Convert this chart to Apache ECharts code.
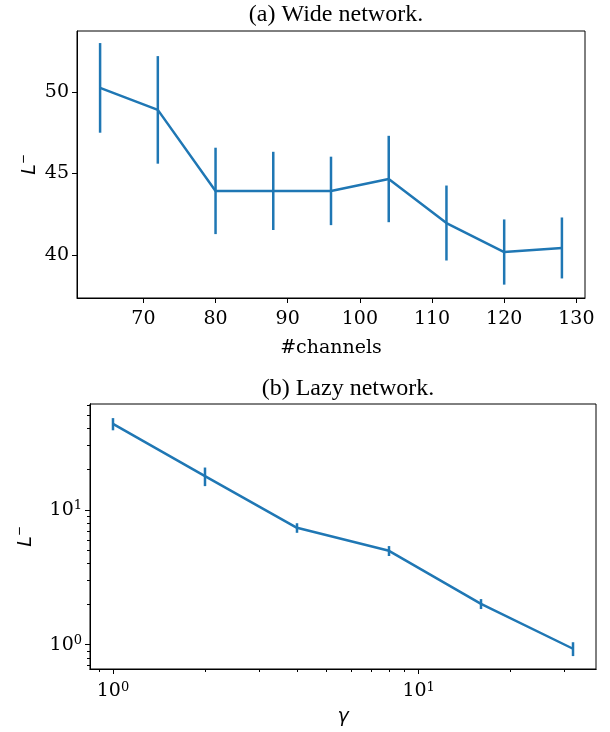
<!DOCTYPE html>
<html><head><meta charset="utf-8">
<script src="https://cdn.jsdelivr.net/npm/echarts@6/dist/echarts.min.js"></script>
<style>html,body{margin:0;padding:0;background:#fff}#c{width:610px;height:732px}</style>
</head><body><div id="c"></div>
<script>
// ---- data ----
const channels = [64, 72, 80, 88, 96, 104, 112, 120, 128];
const wideMean = [50.25, 48.9, 43.93, 43.93, 43.93, 44.66, 41.96, 40.18, 40.43];
const wideErr  = [2.75, 3.3, 2.65, 2.4, 2.1, 2.65, 2.3, 2.0, 1.87];
const gammas   = [1, 2, 4, 8, 16, 32];
const lazyMean = [43.4, 17.8, 7.36, 4.97, 2.01, 0.934];
const lazyErr  = [4.5, 2.8, 0.6, 0.42, 0.17, 0.11];
const wideXTicks = [70, 80, 90, 100, 110, 120, 130];
const wideYTicks = [40, 45, 50];
const logMajor = [1, 10];
const lazyXMinor = [0.9, 2, 3, 4, 5, 6, 7, 8, 9, 20, 30];
const lazyYMinor = [0.7, 0.8, 0.9, 2, 3, 4, 5, 6, 7, 8, 9, 20, 30, 40, 50, 60];
const titles = ['(a) Wide network.', '(b) Lazy network.'];

const BLUE = '#1f77b4';
const SERIF = 'DejaVu Serif';
const chart = echarts.init(document.getElementById('c'), null, {renderer: 'canvas'});

const lineData = (xs, ys) => xs.map((x, i) => [x, ys[i]]);
const errData = (xs, ys, es) => xs.map((x, i) => [x, ys[i] - es[i], ys[i] + es[i]]);

function errRender(params, api) {
  const p1 = api.coord([api.value(0), api.value(1)]);
  const p2 = api.coord([api.value(0), api.value(2)]);
  return {type: 'line', shape: {x1: p1[0], y1: p1[1], x2: p2[0], y2: p2[1]},
          style: {stroke: BLUE, lineWidth: 2.5}};
}

const axisCommon = {
  axisLine: {show: true, onZero: false, lineStyle: {color: '#000', width: 1}},
  axisTick: {show: true, length: 5, lineStyle: {color: '#000', width: 1}},
  splitLine: {show: false},
};
const supRich = {
  b: {fontFamily: SERIF, fontSize: 19, color: '#000'},
  s: {fontFamily: SERIF, fontSize: 13, color: '#000', verticalAlign: 'top', padding: [0, 0, 8, 0]}
};
const logFmt = v => '{b|10}{s|' + Math.round(Math.log10(v)) + '}';
const yName = {
  name: '{i|L}{m|\u2212}',
  nameLocation: 'middle', nameRotate: 90, nameMoveOverlap: false,
  nameTextStyle: {rich: {
    i: {fontFamily: 'DejaVu Sans', fontStyle: 'italic', fontSize: 19, color: '#000'},
    m: {fontFamily: 'DejaVu Sans', fontSize: 12, color: '#000', padding: [0, 0, 12, 0]}
  }}
};

const option = {
  animation: false,
  title: [
    {text: titles[0], left: 331, top: -2, textAlign: 'center',
     textStyle: {fontFamily: 'Liberation Serif', fontWeight: 'normal', fontSize: 24, color: '#000'}},
    {text: titles[1], left: 343, top: 372, textAlign: 'center',
     textStyle: {fontFamily: 'Liberation Serif', fontWeight: 'normal', fontSize: 24, color: '#000'}}
  ],
  grid: [
    {left: 77, top: 31, width: 508, height: 267, show: true, borderColor: '#000', borderWidth: 1},
    {left: 90, top: 404, width: 506, height: 265, show: true, borderColor: '#000', borderWidth: 1}
  ],
  xAxis: [
    Object.assign({}, axisCommon, {
      gridIndex: 0, type: 'value', min: 60.8, max: 131.2,
      axisTick: Object.assign({}, axisCommon.axisTick, {customValues: wideXTicks}),
      axisLabel: {customValues: wideXTicks, fontFamily: SERIF, fontSize: 19, color: '#000', margin: 12},
      name: '#channels', nameLocation: 'middle', nameGap: 41,
      nameTextStyle: {fontFamily: SERIF, fontSize: 19, color: '#000'}
    }),
    Object.assign({}, axisCommon, {
      gridIndex: 1, type: 'log', logBase: 10, min: 0.841, max: 38.05,
      axisTick: Object.assign({}, axisCommon.axisTick, {customValues: logMajor}),
      axisLabel: {customValues: logMajor, formatter: logFmt, rich: supRich, margin: 12},
      name: '\u03b3', nameLocation: 'middle', nameGap: 39,
      nameTextStyle: {fontFamily: 'DejaVu Sans', fontStyle: 'italic', fontSize: 19, color: '#000'}
    }),
    Object.assign({}, axisCommon, {
      gridIndex: 1, type: 'log', logBase: 10, min: 0.841, max: 38.05, position: 'bottom',
      axisTick: Object.assign({}, axisCommon.axisTick, {customValues: lazyXMinor, length: 3}),
      axisLabel: {show: false}
    })
  ],
  yAxis: [
    Object.assign({}, axisCommon, yName, {
      gridIndex: 0, type: 'value', min: 37.36, max: 53.74,
      axisTick: Object.assign({}, axisCommon.axisTick, {customValues: wideYTicks}),
      axisLabel: {customValues: wideYTicks, fontFamily: SERIF, fontSize: 19, color: '#000', margin: 8},
      nameGap: 35
    }),
    Object.assign({}, axisCommon, yName, {
      gridIndex: 1, type: 'log', logBase: 10, min: 0.661, max: 60.95,
      axisTick: Object.assign({}, axisCommon.axisTick, {customValues: logMajor}),
      axisLabel: {customValues: logMajor, formatter: logFmt, rich: supRich, margin: 8},
      nameGap: 52
    }),
    Object.assign({}, axisCommon, {
      gridIndex: 1, type: 'log', logBase: 10, min: 0.661, max: 60.95, position: 'left',
      axisTick: Object.assign({}, axisCommon.axisTick, {customValues: lazyYMinor, length: 3}),
      axisLabel: {show: false}
    })
  ],
  series: [
    {type: 'line', xAxisIndex: 0, yAxisIndex: 0, data: lineData(channels, wideMean),
     showSymbol: false, symbol: 'none', lineStyle: {color: BLUE, width: 2.5}, z: 3},
    {type: 'custom', xAxisIndex: 0, yAxisIndex: 0, data: errData(channels, wideMean, wideErr),
     renderItem: errRender, z: 3},
    {type: 'line', xAxisIndex: 1, yAxisIndex: 1, data: lineData(gammas, lazyMean),
     showSymbol: false, symbol: 'none', lineStyle: {color: BLUE, width: 2.5}, z: 3},
    {type: 'custom', xAxisIndex: 1, yAxisIndex: 1, data: errData(gammas, lazyMean, lazyErr),
     renderItem: errRender, z: 3}
  ]
};
chart.setOption(option);
</script>
</body></html>
